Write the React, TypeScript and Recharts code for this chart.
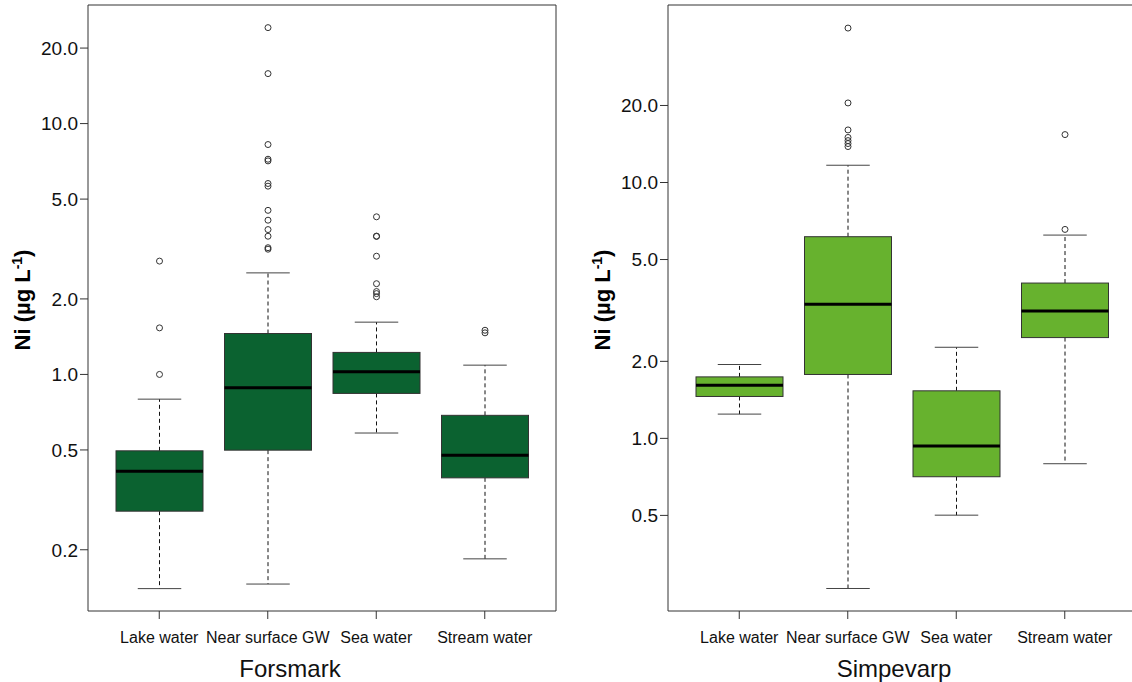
import React from 'react';
import { ComposedChart, Bar, Line, XAxis, YAxis } from 'recharts';

const categories = ['Lake water', 'Near surface GW', 'Sea water', 'Stream water'];

// Forsmark
const forsmarkLow = [0.14, 0.146, 0.584, 0.184];
const forsmarkQ1 = [0.285, 0.499, 0.84, 0.387];
const forsmarkMedian = [0.411, 0.884, 1.024, 0.476];
const forsmarkQ3 = [0.496, 1.456, 1.224, 0.687];
const forsmarkHigh = [0.797, 2.54, 1.616, 1.089];
const forsmarkOutliers = [
  [1.0, 1.533, 2.83],
  [3.157, 3.2, 3.556, 3.78, 4.12, 4.51, 5.63, 5.77, 7.1, 7.21, 8.25, 15.82, 24.13],
  [2.04, 2.1, 2.14, 2.3, 2.96, 3.55, 3.56, 4.25],
  [1.465, 1.5],
];
const forsmarkTicks = [0.2, 0.5, 1, 2, 5, 10, 20];

// Simpevarp
const simpevarpLow = [1.244, 0.259, 0.501, 0.796];
const simpevarpQ1 = [1.458, 1.777, 0.708, 2.477];
const simpevarpMedian = [1.614, 3.34, 0.933, 3.147];
const simpevarpQ3 = [1.739, 6.14, 1.534, 4.046];
const simpevarpHigh = [1.944, 11.68, 2.27, 6.23];
const simpevarpOutliers = [
  [],
  [13.82, 14.2, 14.58, 15.0, 16.05, 20.46, 40.14],
  [],
  [6.556, 15.39],
];
const simpevarpTicks = [0.5, 1, 2, 5, 10, 20];

const FONT = '"Liberation Sans", Arial, Helvetica, sans-serif';
const AXIS = '#333';

function buildRows(low, q1, med, q3, high, outliers) {
  return categories.map((name, i) => ({
    name,
    range: [low[i], high[i]],
    low: low[i],
    q1: q1[i],
    median: med[i],
    q3: q3[i],
    high: high[i],
    outliers: outliers[i],
  }));
}

const forsmarkRows = buildRows(forsmarkLow, forsmarkQ1, forsmarkMedian, forsmarkQ3, forsmarkHigh, forsmarkOutliers);
const simpevarpRows = buildRows(simpevarpLow, simpevarpQ1, simpevarpMedian, simpevarpQ3, simpevarpHigh, simpevarpOutliers);

// box + whiskers + outliers, positioned from the bar's [low, high] pixel span (log scale)
const BoxShape = (props: any) => {
  const { x, y, width, height, payload, fill } = props;
  if (!payload) return null;
  const yTop = height >= 0 ? y : y + height;
  const yBot = yTop + Math.abs(height);
  const lh = Math.log(payload.high);
  const ll = Math.log(payload.low);
  const toY = (v: number) => yTop + ((lh - Math.log(v)) / (lh - ll)) * (yBot - yTop);
  const cx = x + width / 2;
  const yQ1 = toY(payload.q1);
  const yQ3 = toY(payload.q3);
  const yMed = toY(payload.median);
  return (
    <g>
      <line x1={cx} x2={cx} y1={yQ3} y2={yTop} stroke="#111" strokeDasharray="4 3" />
      <line x1={cx} x2={cx} y1={yQ1} y2={yBot} stroke="#111" strokeDasharray="4 3" />
      <line x1={cx - width / 4} x2={cx + width / 4} y1={yTop} y2={yTop} stroke="#444" />
      <line x1={cx - width / 4} x2={cx + width / 4} y1={yBot} y2={yBot} stroke="#444" />
      <rect x={x} y={yQ3} width={width} height={yQ1 - yQ3} fill={fill} stroke="#333" strokeWidth={1} />
      <line x1={x} x2={x + width} y1={yMed} y2={yMed} stroke="#000" strokeWidth={3} />
      {payload.outliers.map((v: number, i: number) => (
        <circle key={i} cx={cx} cy={toY(v)} r={3} fill="none" stroke="#333" strokeWidth={1} />
      ))}
    </g>
  );
};

const YTitle = (props: any) => {
  const { viewBox } = props;
  const bx = viewBox.x + 30;
  const cy = viewBox.y + viewBox.height / 2 - 8;
  return (
    <text
      transform={`translate(${bx},${cy}) rotate(-90)`}
      textAnchor="middle"
      fontSize={22}
      fontWeight="bold"
      fontFamily={FONT}
      fill="#000"
    >
      Ni (µg L<tspan dy={-8} fontSize={14}>-1</tspan>
      <tspan dy={8}>)</tspan>
    </text>
  );
};

const XTitle = (props: any) => {
  const { viewBox, text, dx } = props;
  return (
    <text
      x={viewBox.x + viewBox.width / 2 + dx}
      y={viewBox.y + 66}
      textAnchor="middle"
      fontSize={24}
      fontFamily={FONT}
      fill="#111"
    >
      {text}
    </text>
  );
};

const Panel = ({ rows, ticks, domain, fill, title, titleDx, width }) => (
  <ComposedChart width={width} height={682} data={rows} margin={{ top: 5, right: 4, bottom: 0, left: 0 }}>
    <XAxis
      dataKey="name"
      interval={0}
      padding={{ left: 17, right: 17 }}
      height={71}
      tickSize={8}
      tickMargin={13}
      stroke={AXIS}
      tick={{ fontSize: 16, fill: '#111', fontFamily: FONT }}
      label={<XTitle text={title} dx={titleDx} />}
    />
    {/* mirrored frame axes: top and right edges of the box */}
    <XAxis
      xAxisId="top"
      dataKey="name"
      orientation="top"
      mirror
      height={20}
      tick={false}
      tickLine={false}
      stroke={AXIS}
    />
    <YAxis
      scale="log"
      domain={domain}
      allowDataOverflow
      ticks={ticks}
      interval={0}
      width={88}
      tickSize={8}
      tickMargin={2}
      stroke={AXIS}
      tickFormatter={(v: number) => v.toFixed(1)}
      tick={{ fontSize: 19, fill: '#111', fontFamily: FONT }}
      label={<YTitle />}
    />
    <YAxis
      yAxisId="right"
      orientation="right"
      mirror
      scale="log"
      domain={domain}
      allowDataOverflow
      width={20}
      tick={false}
      tickLine={false}
      stroke={AXIS}
    />
    <Bar dataKey="range" barSize={87} fill={fill} shape={<BoxShape />} isAnimationActive={false} />
    <Line
      xAxisId="top"
      yAxisId="right"
      dataKey="median"
      stroke="none"
      dot={false}
      activeDot={false}
      isAnimationActive={false}
    />
  </ComposedChart>
);

export default function App() {
  return (
    <div
      style={{
        position: 'absolute',
        left: 0,
        top: 0,
        width: 1132,
        height: 682,
        overflow: 'hidden',
        background: '#fff',
        fontFamily: FONT,
      }}
    >
      <div style={{ position: 'absolute', left: 0, top: 0 }}>
        <Panel
          rows={forsmarkRows}
          ticks={forsmarkTicks}
          domain={[0.114, 29.7]}
          fill="#0B6230"
          title="Forsmark"
          titleDx={-32}
          width={560}
        />
      </div>
      <div style={{ position: 'absolute', left: 580, top: 0 }}>
        <Panel
          rows={simpevarpRows}
          ticks={simpevarpTicks}
          domain={[0.2115, 49.4]}
          fill="#67B22E"
          title="Simpevarp"
          titleDx={-8}
          width={560}
        />
      </div>
    </div>
  );
}
